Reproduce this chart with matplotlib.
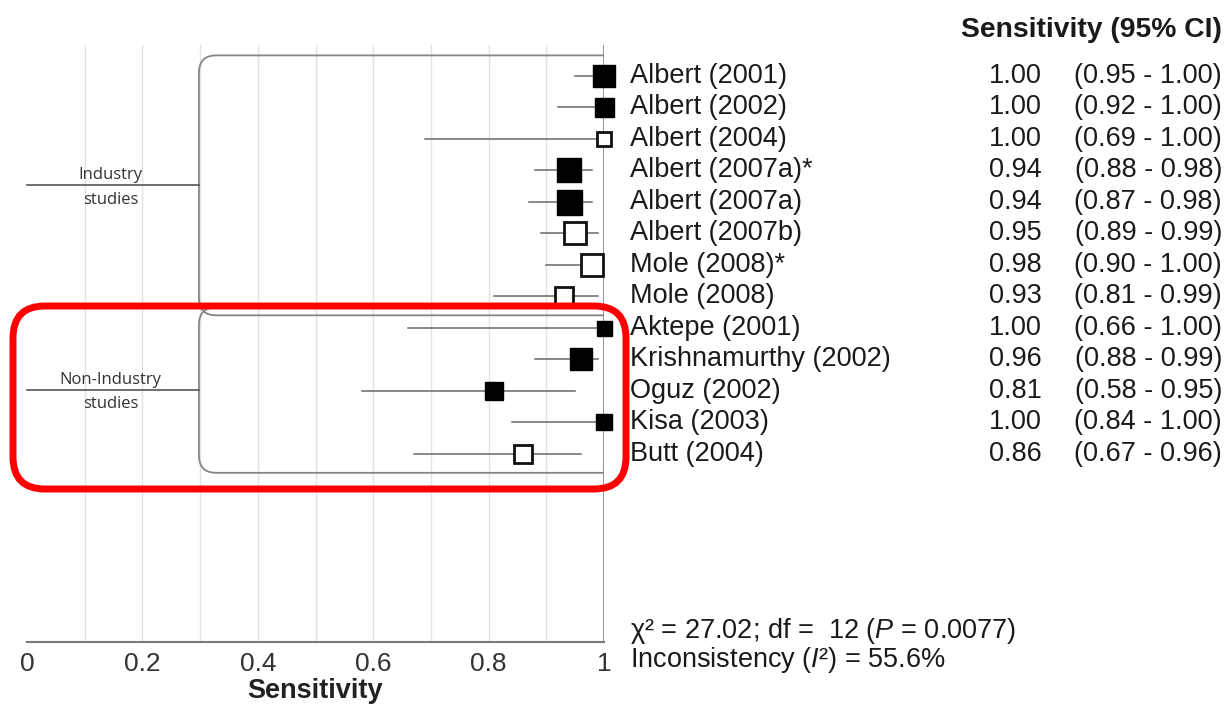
import matplotlib
matplotlib.use("Agg")
import matplotlib.pyplot as plt
from matplotlib.path import Path
from matplotlib.patches import PathPatch, FancyBboxPatch

plt.rcParams['font.family'] = ['Liberation Sans', 'DejaVu Sans']
plt.rcParams['mathtext.fontset'] = 'custom'
plt.rcParams['mathtext.rm'] = 'Liberation Sans'
plt.rcParams['mathtext.it'] = 'Liberation Sans:italic'

# data
studies = ["Albert (2001)", "Albert (2002)", "Albert (2004)", "Albert (2007a)*",
           "Albert (2007a)", "Albert (2007b)", "Mole (2008)*", "Mole (2008)",
           "Aktepe (2001)", "Krishnamurthy (2002)", "Oguz (2002)", "Kisa (2003)",
           "Butt (2004)"]
sens = [1.00, 1.00, 1.00, 0.94, 0.94, 0.95, 0.98, 0.93, 1.00, 0.96, 0.81, 1.00, 0.86]
ci_lo = [0.95, 0.92, 0.69, 0.88, 0.87, 0.89, 0.90, 0.81, 0.66, 0.88, 0.58, 0.84, 0.67]
ci_hi = [1.00, 1.00, 1.00, 0.98, 0.98, 0.99, 1.00, 0.99, 1.00, 0.99, 0.95, 1.00, 0.96]
filled = [True, True, False, True, True, False, False, False, True, True, True, True, False]
box_px = [23, 19, 15, 24, 25, 24, 23, 20, 15, 22, 18, 16, 19]  # marker side, pixels
groups = [("Industry\nstudies", 0, 7), ("Non-Industry\nstudies", 8, 12)]
xticks = [0, 0.2, 0.4, 0.6, 0.8, 1]
xtick_labels = ["0", "0.2", "0.4", "0.6", "0.8", "1"]
chi_text = "χ² = 27.02; df =  12 ($P$ = 0.0077)"
incons_text = "Inconsistency ($I$²) = 55.6%"

fig = plt.figure(figsize=(12.29, 7.04), dpi=100)
ax = fig.add_axes([27 / 1229, 1 - 642 / 704, 577 / 1229, (642 - 45) / 704])
ax.set_xlim(0, 1)
ax.set_ylim(17.97, -0.98)

for s in ["top", "right", "left"]:
    ax.spines[s].set_visible(False)
ax.spines["bottom"].set_color("#7a7a7a")
ax.spines["bottom"].set_linewidth(1.5)
ax.set_yticks([])
ax.set_xticks(xticks)
ax.set_xticklabels(xtick_labels, fontsize=19, color="#333333")
ax.tick_params(axis="x", length=0, pad=7)
ax.set_xlabel("Sensitivity", fontsize=19.5, fontweight="bold", color="#222222", labelpad=2)

# light grid every 0.1, darker line at 1
for g in [i / 10 for i in range(1, 10)]:
    ax.axvline(g, color="#e2e2e2", lw=1, zorder=0)
ax.axvline(1, color="#8a8a8a", lw=2, zorder=1)

# group brackets
rx, ry = 0.03, 0.55
for label, a, b in groups:
    top, bot = a - 0.65, b + 0.6
    x0 = 0.298
    verts = [(1, top), (x0 + rx, top), (x0, top), (x0, top + ry),
             (x0, bot - ry), (x0, bot), (x0 + rx, bot), (1, bot)]
    codes = [Path.MOVETO, Path.LINETO, Path.CURVE3, Path.CURVE3,
             Path.LINETO, Path.CURVE3, Path.CURVE3, Path.LINETO]
    ax.add_patch(PathPatch(Path(verts, codes), fill=False, ec="#858585", lw=1.3, zorder=1))
    mid = (top + bot) / 2
    ax.plot([0, x0], [mid, mid], color="#555555", lw=1.2, clip_on=False)
    first, second = label.split("\n")
    ax.text(0.145, mid - 0.08, first, ha="center", va="bottom", fontsize=12,
            family=["Open Sans", "DejaVu Sans"], color="#333333")
    ax.text(0.145, mid + 0.2, second, ha="center", va="top", fontsize=12,
            family=["Open Sans", "DejaVu Sans"], color="#333333")

# CI lines and boxes
for i in range(len(studies)):
    ax.plot([ci_lo[i], ci_hi[i]], [i, i], color="#6a6a6a", lw=1.1, zorder=2)
    ms = box_px[i] * 0.72
    if filled[i]:
        ax.plot(sens[i], i, marker="s", ms=ms, mfc="black", mec="black", mew=1,
                zorder=3, clip_on=False)
    else:
        ax.plot(sens[i], i, marker="s", ms=ms - 1, mfc="white", mec="#111111", mew=2,
                zorder=3, clip_on=False)

# text columns
x_name, x_val, x_ci = 1.045, 1.759, 2.071
ax.text(2.071, -1.46, "Sensitivity (95% CI)", ha="right", va="center",
        fontsize=20.3, fontweight="bold", color="#1a1a1a", clip_on=False)
for i in range(len(studies)):
    ax.text(x_name, i, studies[i], ha="left", va="center", fontsize=19.5,
            color="#1a1a1a", clip_on=False)
    ax.text(x_val, i, "%.2f" % sens[i], ha="right", va="center", fontsize=19.5,
            color="#1a1a1a", clip_on=False)
    ax.text(x_ci, i, "(%.2f - %.2f)" % (ci_lo[i], ci_hi[i]), ha="right", va="center",
            fontsize=19.5, color="#1a1a1a", clip_on=False)

ax.text(x_name, 17.62, chi_text, ha="left", va="center", fontsize=19.5,
        color="#1a1a1a", clip_on=False)
ax.text(x_name, 18.55, incons_text, ha="left", va="center", fontsize=19.5,
        color="#1a1a1a", clip_on=False)

# red highlight box (inches from bottom-left)
red = FancyBboxPatch((0.13 + 0.32, 2.15 + 0.32), 6.13 - 0.64, 1.83 - 0.64,
                     boxstyle="round,pad=0.32", transform=fig.dpi_scale_trans,
                     fill=False, ec="#ff0000", lw=5, zorder=10)
fig.patches.append(red)

fig.savefig("out.png", dpi=100)
